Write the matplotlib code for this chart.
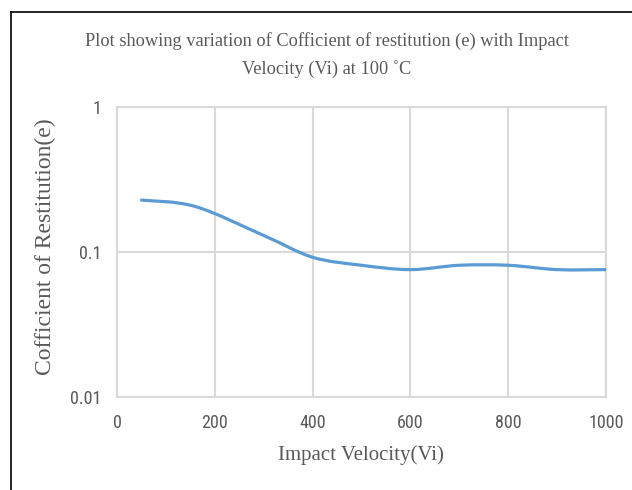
import numpy as np
import matplotlib
matplotlib.use("Agg")
import matplotlib.pyplot as plt
from matplotlib import font_manager
from matplotlib.path import Path
from matplotlib.patches import PathPatch
from matplotlib.lines import Line2D

# data
impact_velocity = [50, 160, 300, 400, 500, 600, 700, 800, 900, 1000]
restitution = [0.228, 0.206, 0.130, 0.092, 0.081, 0.0756, 0.081, 0.081, 0.0756, 0.0756]
x_ticks = [0, 200, 400, 600, 800, 1000]
y_ticks = [0.01, 0.1, 1]
y_tick_labels = ['0.01', '0.1', '1']

title_line1 = 'Plot showing variation of Cofficient of restitution (e) with Impact'
title_line2 = 'Velocity (Vi) at 100 \u02daC'

# pick a narrow sans for the tick labels if one is there
installed = {f.name for f in font_manager.fontManager.ttflist}
narrow = 'DejaVu Sans'
for name in ['Liberation Sans Narrow', 'DejaVu Sans Condensed', 'Roboto Condensed', 'Roboto']:
    if name in installed:
        narrow = name
        break

serif = ['Liberation Serif', 'DejaVu Serif']
text_col = '#595959'
grid_col = '#d9d9d9'
line_col = '#5b9bd5'

fig = plt.figure(figsize=(6.32, 4.90), dpi=100)
ax = fig.add_axes([117/632, 1 - 397/490, 489/632, 290/490])

# smoothed line like Excel (bezier through the points, in x / log10(y) space)
px = np.array(impact_velocity, dtype=float)
py = np.log10(restitution)
n = len(px)
verts = [(px[0], py[0])]
codes = [Path.MOVETO]
for i in range(n - 1):
    p0 = np.array([px[max(i - 1, 0)], py[max(i - 1, 0)]])
    p1 = np.array([px[i], py[i]])
    p2 = np.array([px[i + 1], py[i + 1]])
    p3 = np.array([px[min(i + 2, n - 1)], py[min(i + 2, n - 1)]])
    c1 = p1 + (p2 - p0) / 6
    c2 = p2 - (p3 - p1) / 6
    verts += [tuple(c1), tuple(c2), tuple(p2)]
    codes += [Path.CURVE4] * 3
verts = [(v[0], 10 ** v[1]) for v in verts]
ax.add_patch(PathPatch(Path(verts, codes), facecolor='none', edgecolor=line_col,
                       lw=2.3, capstyle='round', joinstyle='round', zorder=3))

ax.set_yscale('log')
ax.set_xlim(0, 1000)
ax.set_ylim(0.01, 1)
ax.set_xticks(x_ticks)
ax.set_xticklabels([str(v) for v in x_ticks])
ax.set_yticks(y_ticks)
ax.set_yticklabels(y_tick_labels)
ax.yaxis.set_minor_locator(matplotlib.ticker.NullLocator())
ax.tick_params(length=0, labelsize=13, labelcolor=text_col)
ax.tick_params(axis='y', pad=11)
ax.tick_params(axis='x', pad=12)
for lab in ax.get_xticklabels() + ax.get_yticklabels():
    lab.set_family(narrow)
ax.grid(True, color=grid_col, lw=1.5)
ax.set_axisbelow(True)
for s in ax.spines.values():
    s.set_color(grid_col)
    s.set_linewidth(1.5)

fig.text(327/632, 1 - 41/490, title_line1, ha='center', va='center',
         fontsize=13.2, family=serif, color=text_col)
fig.text(327/632, 1 - 69/490, title_line2, ha='center', va='center',
         fontsize=13.2, family=serif, color=text_col)
fig.text(361/632, 1 - 455/490, 'Impact Velocity(Vi)', ha='center', va='center',
         fontsize=15, family=serif, color=text_col)
fig.text(45/632, 1 - 247/490, 'Cofficient of Restitution(e)', ha='center', va='center',
         rotation=90, fontsize=17, family=serif, color=text_col)

# outer chart border (only left and top visible in the crop)
fig.add_artist(Line2D([11/632, 11/632], [0, 1 - 12/490], transform=fig.transFigure,
                      color='black', lw=1.2))
fig.add_artist(Line2D([11/632, 1], [1 - 12/490, 1 - 12/490], transform=fig.transFigure,
                      color='black', lw=1.2))

fig.savefig('out.png', dpi=100)
